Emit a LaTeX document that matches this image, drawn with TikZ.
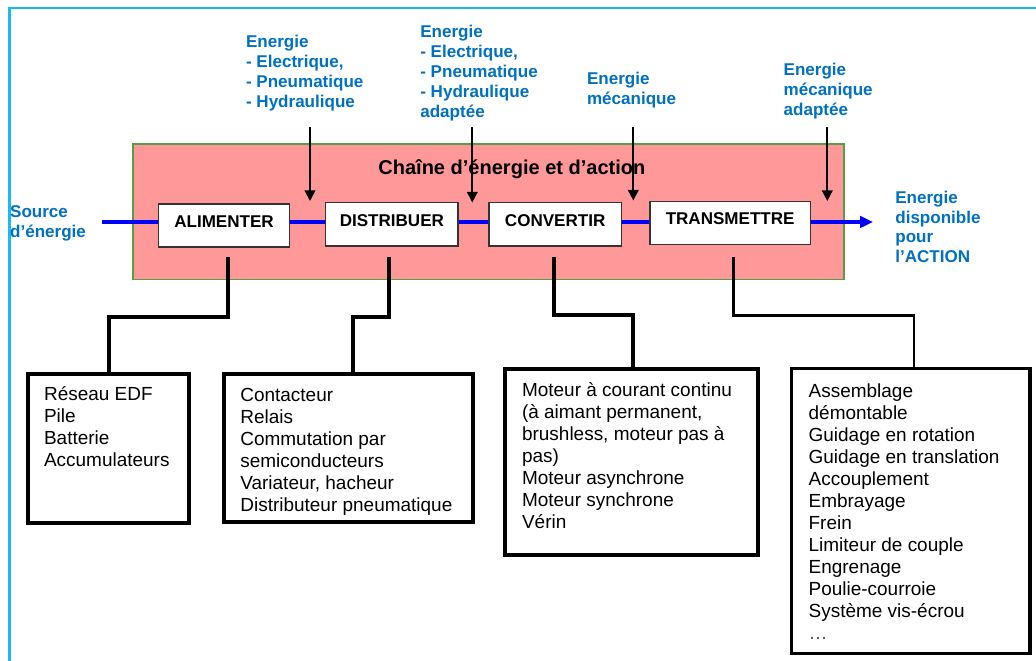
\documentclass[tikz,border=0pt]{standalone}
\usepackage{fontspec}
\setmainfont{Liberation Sans}
\usetikzlibrary{arrows.meta}
\definecolor{labelblue}{RGB}{0,112,192}
\definecolor{chainpink}{RGB}{255,153,153}
\definecolor{chaingreen}{RGB}{84,158,72}
\definecolor{flowblue}{RGB}{0,0,255}
\definecolor{framecyan}{RGB}{30,185,240}
\begin{document}
\begin{tikzpicture}[x=0.02cm,y=-0.02cm,
  % multi-line texts are placed by the baseline of their last line
  bluelabel/.style={anchor=base west,inner sep=0pt,align=left,text=labelblue,
    font=\fontsize{9.7}{11.38}\selectfont\bfseries},
  listtext/.style={anchor=base west,inner sep=0pt,align=left,
    font=\fontsize{10.8}{12.56}\selectfont},
  funcbox/.style={draw=black!80,line width=0.6pt,fill=white,inner sep=0pt,
    font=\fontsize{9.7}{11.6}\selectfont\bfseries,text height=7pt,text depth=4.9pt},
  listbox/.style={draw,line width=2.2pt,inner sep=0pt},
  feed/.style={line width=1.1pt,-{Triangle[length=6pt,width=6pt]}},
  flow/.style={draw=flowblue,line width=1.9pt},
  link/.style={line width=2.3pt},
]
\useasboundingbox (0,0) rectangle (1036,661);

% outer frame (top and left edges)
\draw[framecyan,line width=1.2pt] (9.5,661) -- (9.5,8.3) -- (1036,8.3);

% the energy chain block
\node[fill=chainpink,draw=chaingreen,line width=0.8pt,inner sep=0pt,
  minimum width=14.22cm,minimum height=2.706cm] (chain) at (488.5,211.65) {};
\node[anchor=base west,inner sep=0pt,font=\fontsize{11.4}{13}\selectfont\bfseries]
  (title) at (378,175) {Chaîne d’énergie et d’action};

% functions
\node[funcbox,minimum width=2.612cm,minimum height=0.86cm] (alim)  at (224,225.5)    {ALIMENTER};
\node[funcbox,minimum width=2.646cm,minimum height=0.866cm] (dist)  at (391.85,224.35) {DISTRIBUER};
\node[funcbox,minimum width=2.646cm,minimum height=0.866cm] (conv)  at (555.15,224.35) {CONVERTIR};
\node[funcbox,minimum width=3.206cm,minimum height=0.86cm] (trans) at (730.15,222.8)  {TRANSMETTRE};

% energy flow
\coordinate (src) at (101.7,222);
\coordinate (out) at (873,222);
\draw[flow] (src) -- (alim.west |- src);
\draw[flow] (alim.east |- src) -- (dist.west |- src);
\draw[flow] (dist.east |- src) -- (conv.west |- src);
\draw[flow] (conv.east |- src) -- (trans.west |- src);
\draw[flow,-{Triangle[length=7.4pt,width=6.5pt]}] (trans.east |- src) -- (out);

% energy inputs
\node[bluelabel] (in1) at (245.7,107.2) {Energie\\- Electrique,\\- Pneumatique\\- Hydraulique};
\node[bluelabel] (in2) at (420,117.2) {Energie\\- Electrique,\\- Pneumatique\\- Hydraulique\\adaptée};
\node[bluelabel] (in3) at (586.7,104.9) {Energie\\mécanique};
\node[bluelabel] (in4) at (783.3,115.9) {Energie\\mécanique\\adaptée};
\node[bluelabel] (source) at (9.8,237.9) {Source\\d’énergie};
\node[bluelabel] (action) at (895,263) {Energie\\disponible\\pour\\l’ACTION};

\coordinate (e1) at (310,127.5);   \coordinate (f1) at (310,201);
\coordinate (e2) at (472.3,127.5); \coordinate (f2) at (472.3,202.5);
\coordinate (e3) at (633.3,127.5); \coordinate (f3) at (633.3,200.5);
\coordinate (e4) at (827.3,127.5); \coordinate (f4) at (827.3,201);
\draw[feed] (e1) -- (f1);
\draw[feed] (e2) -- (f2);
\draw[feed] (e3) -- (f3);
\draw[feed] (e4) -- (f4);

% technical solutions
\node[listbox,minimum width=3.226cm,minimum height=2.974cm] (b1) at (108.65,448.35) {};
\node[listbox,minimum width=4.98cm,minimum height=2.96cm]   (b2) at (348.8,448)    {};
\node[listbox,minimum width=5.048cm,minimum height=3.72cm]  (b3) at (631.5,462.3)  {};
\node[listbox,line width=1.9pt,minimum width=4.766cm,minimum height=5.7cm] (b4) at (910.85,510.8) {};

\node[listtext] (t1) at (43.7,466.5) {Réseau EDF\\Pile\\Batterie\\Accumulateurs};
\node[listtext] (t2) at (240,511.5) {Contacteur\\Relais\\Commutation par\\semiconducteurs\\Variateur, hacheur\\Distributeur pneumatique};
\node[listtext] (t3) at (521.7,529) {Moteur à courant continu\\(à aimant permanent,\\brushless, moteur pas à\\pas)\\Moteur asynchrone\\Moteur synchrone\\Vérin};
\node[listtext] (t4) at (808.3,639.8) {Assemblage\\démontable\\Guidage en rotation\\Guidage en translation\\Accouplement\\Embrayage\\Frein\\Limiteur de couple\\Engrenage\\Poulie-courroie\\Système vis-écrou\\{\color{black!70}…}};

% links from functions to solutions
\coordinate (a1) at (227.7,256.7);
\coordinate (a2) at (389.3,256.7);
\coordinate (a3) at (553.8,256.7);
\coordinate (a4) at (733.3,256.7);
\draw[link] (a1) -- ++(0,60) -| ([xshift=0.013cm]b1.north);
\draw[link] (a2) -- ++(0,60) -| ([xshift=0.09cm]b2.north);
\draw[link] (a3) -- ++(0,58.3) -| ([xshift=0.036cm]b3.north);
\draw[line width=1.4pt] (a4) -- ++(0,59) -| ([xshift=0.063cm]b4.north);
\end{tikzpicture}
\end{document}
